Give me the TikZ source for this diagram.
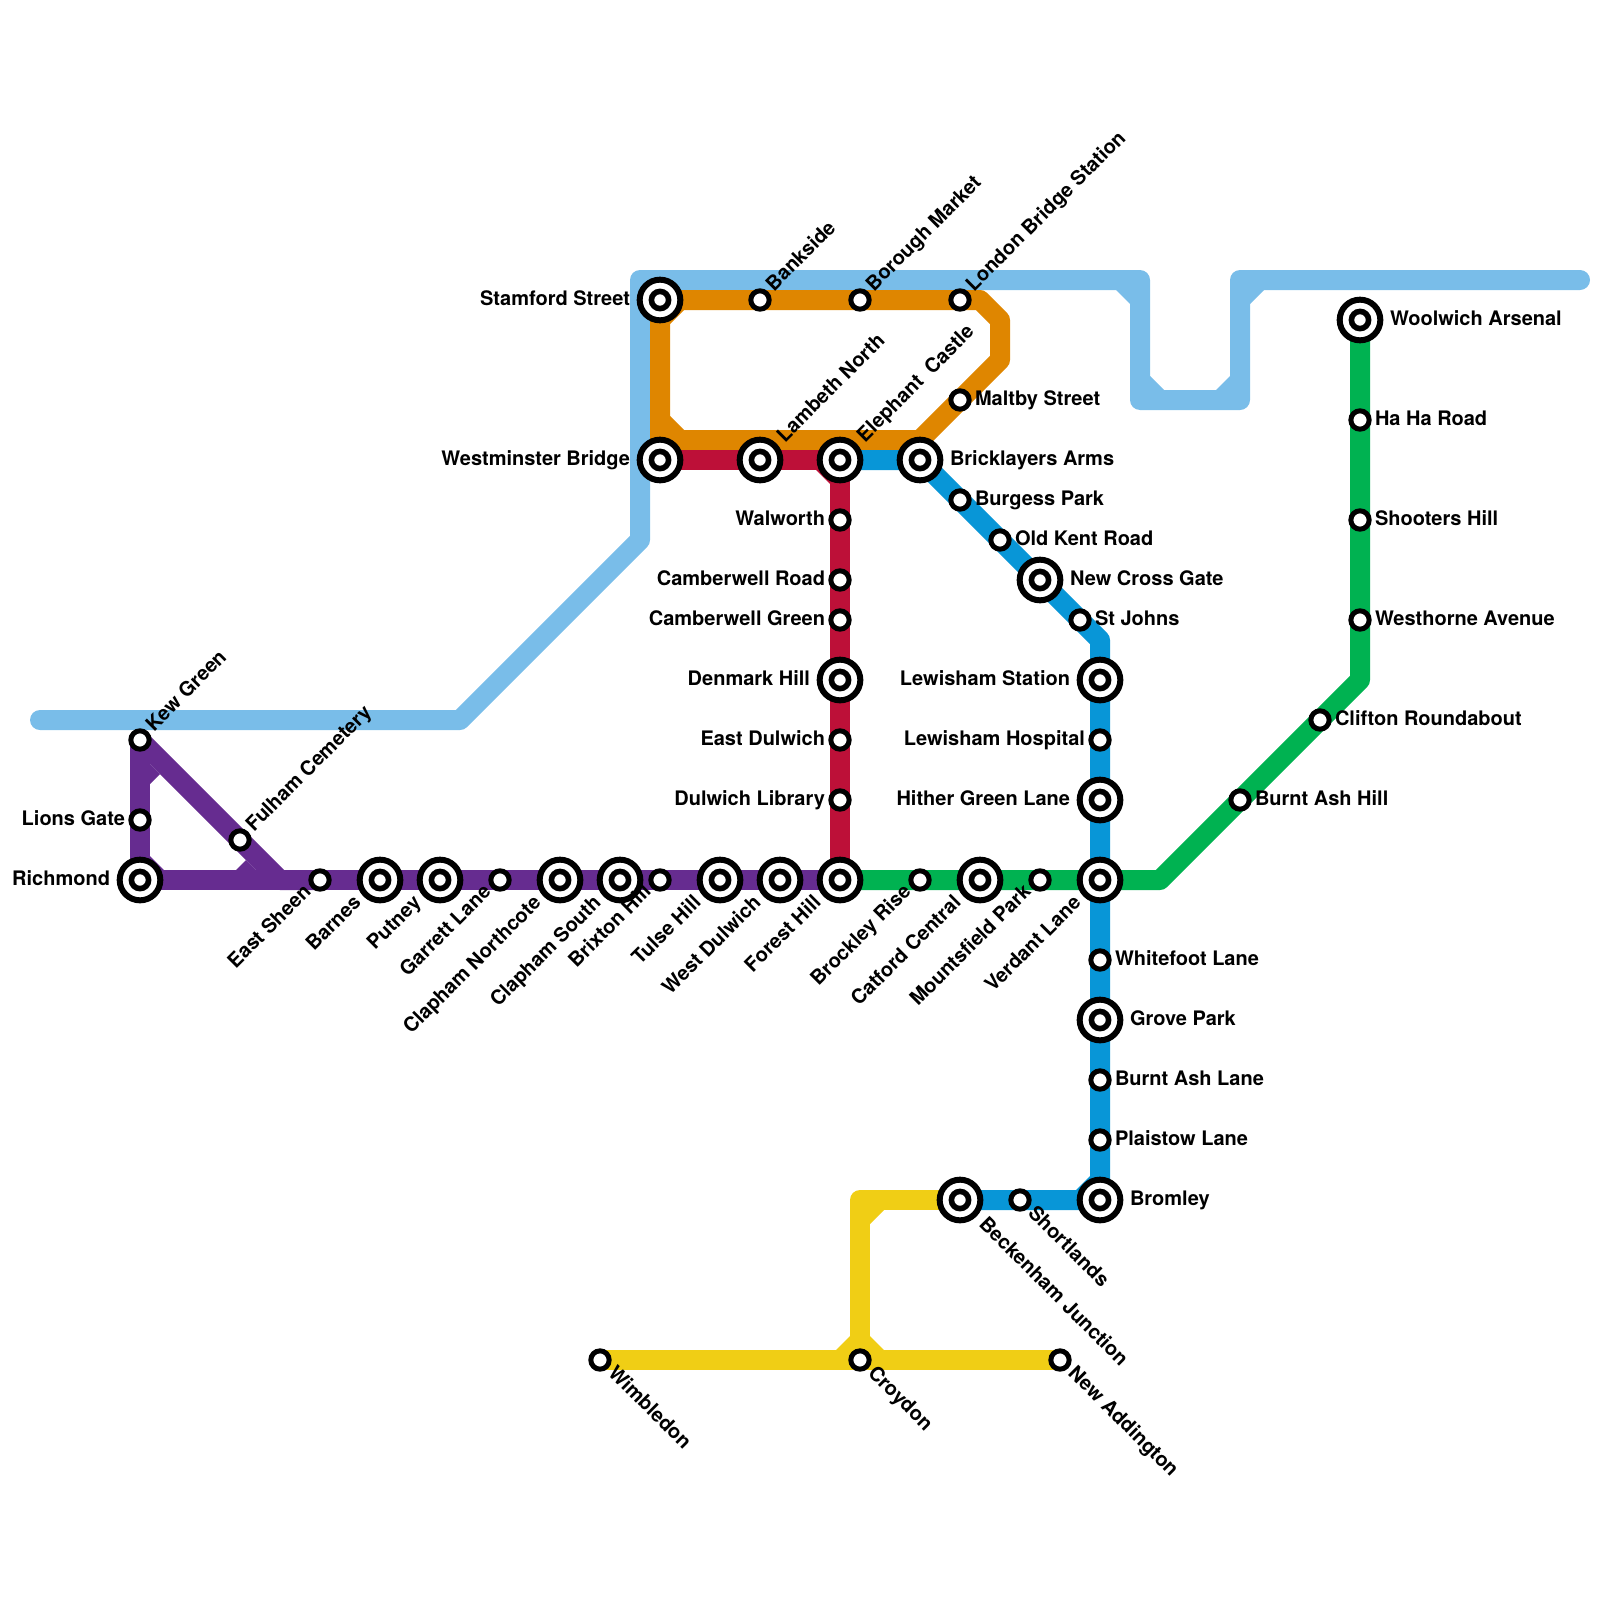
\documentclass[tikz,border=0pt]{standalone}
\usepackage{fontspec}
\setmainfont{TeX Gyre Heros}
\pgfdeclarelayer{lines}
\pgfsetlayers{lines,main}
\definecolor{cLight}{HTML}{79BDE9}
\definecolor{cPurple}{HTML}{662C90}
\definecolor{cOrange}{HTML}{DF8600}
\definecolor{cRed}{HTML}{BD1038}
\definecolor{cBlue}{HTML}{0896D7}
\definecolor{cGreen}{HTML}{00B251}
\definecolor{cYellow}{HTML}{F0CE15}
\tikzset{
  x=1pt,y=-1pt,
  stn/.style={circle,draw=black,fill=white,line width=5pt,minimum size=18.34pt,inner sep=0pt,outer sep=0pt},
  xchg/.style={circle,draw=black,fill=white,line width=6pt,minimum size=40.66pt,inner sep=0pt,outer sep=0pt,
    path picture={\draw[black,line width=5.6pt] (path picture bounding box.center) circle (8.6pt);}},
  route/.style={line width=20pt,line join=round,line cap=round},
  lbl/.style={font=\bfseries\fontsize{20}{22}\selectfont,inner sep=0pt,outer sep=0pt,text=black},
}
% label: station, dx, dy, rotation, anchor, text
\newcommand{\LB}[6]{\node[lbl,rotate=#4,anchor=#5] (#1-label) at ([shift={(#2,#3)}]#1.center) {#6};}
\newcommand{\LRs}[2]{\LB{#1}{15}{5}{0}{base west}{#2}}
\newcommand{\LRi}[2]{\LB{#1}{30}{5}{0}{base west}{#2}}
\newcommand{\LLs}[2]{\LB{#1}{-15}{5}{0}{base east}{#2}}
\newcommand{\LLi}[2]{\LB{#1}{-30}{5}{0}{base east}{#2}}
\newcommand{\LNEs}[2]{\LB{#1}{14}{-8}{45}{base west}{#2}}
\newcommand{\LNEi}[2]{\LB{#1}{25}{-17}{45}{base west}{#2}}
\newcommand{\LSWs}[2]{\LB{#1}{-8}{13}{45}{base east}{#2}}
\newcommand{\LSWi}[2]{\LB{#1}{-18}{24}{45}{base east}{#2}}
\newcommand{\LSEs}[2]{\LB{#1}{7}{14}{-45}{base west}{#2}}
\newcommand{\LSEi}[2]{\LB{#1}{18}{25}{-45}{base west}{#2}}
% chamfer in a right-angled inner corner: colour, inner corner x, y, dir x, dir y
\newcommand{\cham}[5]{\fill[#1] ({#2-2*#4},{#3-2*#5}) -- ({#2+14*#4},{#3-2*#5}) -- ({#2+14*#4},#3) -- (#2,{#3+14*#5}) -- ({#2-2*#4},{#3+14*#5}) -- cycle;}
\begin{document}
\begin{tikzpicture}
\useasboundingbox (0,0) rectangle (1600,1600);
% stations
\node[stn] (kew) at (140,740) {};
\node[stn] (lions) at (140,820) {};
\node[xchg] (richmond) at (140,880) {};
\node[stn] (fulham) at (240,840) {};
\node[stn] (sheen) at (320,880) {};
\node[xchg] (barnes) at (380,880) {};
\node[xchg] (putney) at (440,880) {};
\node[stn] (garrett) at (500,880) {};
\node[xchg] (northcote) at (560,880) {};
\node[xchg] (south) at (620,880) {};
\node[stn] (brixton) at (660,880) {};
\node[xchg] (tulse) at (720,880) {};
\node[xchg] (wdulwich) at (780,880) {};
\node[xchg] (forest) at (840,880) {};
\node[stn] (brockley) at (920,880) {};
\node[xchg] (catford) at (980,880) {};
\node[stn] (mountsfield) at (1040,880) {};
\node[xchg] (verdant) at (1100,880) {};
\node[stn] (whitefoot) at (1100,960) {};
\node[xchg] (grove) at (1100,1020) {};
\node[stn] (ashlane) at (1100,1080) {};
\node[stn] (plaistow) at (1100,1140) {};
\node[xchg] (bromley) at (1100,1200) {};
\node[stn] (shortlands) at (1020,1200) {};
\node[xchg] (beckenham) at (960,1200) {};
\node[stn] (wimbledon) at (600,1360) {};
\node[stn] (croydon) at (860,1360) {};
\node[stn] (addington) at (1060,1360) {};
\node[xchg] (stamford) at (660,300) {};
\node[stn] (bankside) at (760,300) {};
\node[stn] (borough) at (860,300) {};
\node[stn] (london) at (960,300) {};
\node[xchg] (westminster) at (660,460) {};
\node[xchg] (lambeth) at (760,460) {};
\node[xchg] (elephant) at (840,460) {};
\node[xchg] (bricklayers) at (920,460) {};
\node[stn] (maltby) at (960,400) {};
\node[stn] (burgess) at (960,500) {};
\node[stn] (oldkent) at (1000,540) {};
\node[xchg] (newcross) at (1040,580) {};
\node[stn] (stjohns) at (1080,620) {};
\node[xchg] (lewisham) at (1100,680) {};
\node[stn] (hospital) at (1100,740) {};
\node[xchg] (hither) at (1100,800) {};
\node[stn] (walworth) at (840,520) {};
\node[stn] (camroad) at (840,580) {};
\node[stn] (camgreen) at (840,620) {};
\node[xchg] (denmark) at (840,680) {};
\node[stn] (edulwich) at (840,740) {};
\node[stn] (library) at (840,800) {};
\node[xchg] (woolwich) at (1360,320) {};
\node[stn] (haha) at (1360,420) {};
\node[stn] (shooters) at (1360,520) {};
\node[stn] (westhorne) at (1360,620) {};
\node[stn] (clifton) at (1320,720) {};
\node[stn] (ashhill) at (1240,800) {};
% bends
\coordinate (l0) at (40,720);
\coordinate (l1) at (460,720);
\coordinate (l2) at (640,540);
\coordinate (l3) at (640,280);
\coordinate (l4) at (1140,280);
\coordinate (l5) at (1140,400);
\coordinate (l6) at (1240,400);
\coordinate (l7) at (1240,280);
\coordinate (l8) at (1580,280);
\coordinate (p1) at (280,880);
\coordinate (o1) at (980,300);
\coordinate (o2) at (1000,320);
\coordinate (o3) at (1000,360);
\coordinate (o4) at (920,440);
\coordinate (o5) at (660,440);
\coordinate (b1) at (1100,640);
\coordinate (g1) at (1160,880);
\coordinate (g2) at (1360,680);
\coordinate (y1) at (860,1200);
\begin{pgfonlayer}{lines}
% light blue
\draw[route,cLight] (l0) -- (l1) -- (l2) -- (l3) -- (l4) -- (l5) -- (l6) -- (l7) -- (l8);
\cham{cLight}{650}{290}{1}{1}
\cham{cLight}{1130}{290}{-1}{1}
\cham{cLight}{1150}{390}{1}{-1}
\cham{cLight}{1230}{390}{-1}{-1}
\cham{cLight}{1250}{290}{1}{1}
% purple
\draw[route,cPurple] (kew.center) -- (lions.center) -- (richmond.center) -- (sheen.center) -- (barnes.center) -- (putney.center) -- (garrett.center) -- (northcote.center) -- (south.center) -- (brixton.center) -- (tulse.center) -- (wdulwich.center) -- (forest.center);
\draw[route,cPurple] (kew.center) -- (fulham.center) -- (p1) -- (sheen.center);
\cham{cPurple}{150}{870}{1}{-1}
\fill[cPurple] (146,760) -- (160,774) -- (150,784) -- (146,784) -- cycle;
\fill[cPurple] (260,874) -- (246,860) -- (236,870) -- (236,874) -- cycle;
% orange
\draw[route,cOrange] (stamford.center) -- (bankside.center) -- (borough.center) -- (london.center) -- (o1) -- (o2) -- (o3) -- (maltby.center) -- (o4) -- (o5) -- cycle;
\cham{cOrange}{670}{310}{1}{1}
\cham{cOrange}{670}{430}{1}{-1}
% red
\draw[route,cRed] (westminster.center) -- (lambeth.center) -- (elephant.center) -- (walworth.center) -- (camroad.center) -- (camgreen.center) -- (denmark.center) -- (edulwich.center) -- (library.center) -- (forest.center);
\cham{cRed}{830}{470}{-1}{1}
% green
\draw[route,cGreen] (forest.center) -- (brockley.center) -- (catford.center) -- (mountsfield.center) -- (verdant.center) -- (g1) -- (ashhill.center) -- (clifton.center) -- (g2) -- (westhorne.center) -- (shooters.center) -- (haha.center) -- (woolwich.center);
% blue
\draw[route,cBlue] (elephant.center) -- (bricklayers.center) -- (burgess.center) -- (oldkent.center) -- (newcross.center) -- (stjohns.center) -- (b1) -- (lewisham.center) -- (hospital.center) -- (hither.center) -- (verdant.center) -- (whitefoot.center) -- (grove.center) -- (ashlane.center) -- (plaistow.center) -- (bromley.center) -- (shortlands.center) -- (beckenham.center);
\cham{cBlue}{1090}{1190}{-1}{-1}
% yellow
\draw[route,cYellow] (wimbledon.center) -- (croydon.center) -- (addington.center);
\draw[route,cYellow] (croydon.center) -- (y1) -- (beckenham.center);
\cham{cYellow}{870}{1210}{1}{1}
\cham{cYellow}{850}{1350}{-1}{-1}
\cham{cYellow}{870}{1350}{1}{-1}
\end{pgfonlayer}
% labels
\LNEs{kew}{Kew Green}
\LLs{lions}{Lions Gate}
\LLi{richmond}{Richmond}
\LNEs{fulham}{Fulham Cemetery}
\LSWs{sheen}{East Sheen}
\LSWi{barnes}{Barnes}
\LSWi{putney}{Putney}
\LSWs{garrett}{Garrett Lane}
\LSWi{northcote}{Clapham Northcote}
\LSWi{south}{Clapham South}
\LSWs{brixton}{Brixton Hill}
\LSWi{tulse}{Tulse Hill}
\LSWi{wdulwich}{West Dulwich}
\LSWi{forest}{Forest Hill}
\LSWs{brockley}{Brockley Rise}
\LSWi{catford}{Catford Central}
\LSWs{mountsfield}{Mountsfield Park}
\LSWi{verdant}{Verdant Lane}
\LRs{whitefoot}{Whitefoot Lane}
\LRi{grove}{Grove Park}
\LRs{ashlane}{Burnt Ash Lane}
\LRs{plaistow}{Plaistow Lane}
\LRi{bromley}{Bromley}
\LSEs{shortlands}{Shortlands}
\LSEi{beckenham}{Beckenham Junction}
\LSEs{wimbledon}{Wimbledon}
\LSEs{croydon}{Croydon}
\LSEs{addington}{New Addington}
\LLi{stamford}{Stamford Street}
\LNEs{bankside}{Bankside}
\LNEs{borough}{Borough Market}
\LNEs{london}{London Bridge Station}
\LLi{westminster}{Westminster Bridge}
\LNEi{lambeth}{Lambeth North}
\LNEi{elephant}{Elephant\ \ Castle}
\LRi{bricklayers}{Bricklayers Arms}
\LRs{maltby}{Maltby Street}
\LRs{burgess}{Burgess Park}
\LRs{oldkent}{Old Kent Road}
\LRi{newcross}{New Cross Gate}
\LRs{stjohns}{St Johns}
\LLi{lewisham}{Lewisham Station}
\LLs{hospital}{Lewisham Hospital}
\LLi{hither}{Hither Green Lane}
\LLs{walworth}{Walworth}
\LLs{camroad}{Camberwell Road}
\LLs{camgreen}{Camberwell Green}
\LLi{denmark}{Denmark Hill}
\LLs{edulwich}{East Dulwich}
\LLs{library}{Dulwich Library}
\LRi{woolwich}{Woolwich Arsenal}
\LRs{haha}{Ha Ha Road}
\LRs{shooters}{Shooters Hill}
\LRs{westhorne}{Westhorne Avenue}
\LRs{clifton}{Clifton Roundabout}
\LRs{ashhill}{Burnt Ash Hill}
\end{tikzpicture}
\end{document}
